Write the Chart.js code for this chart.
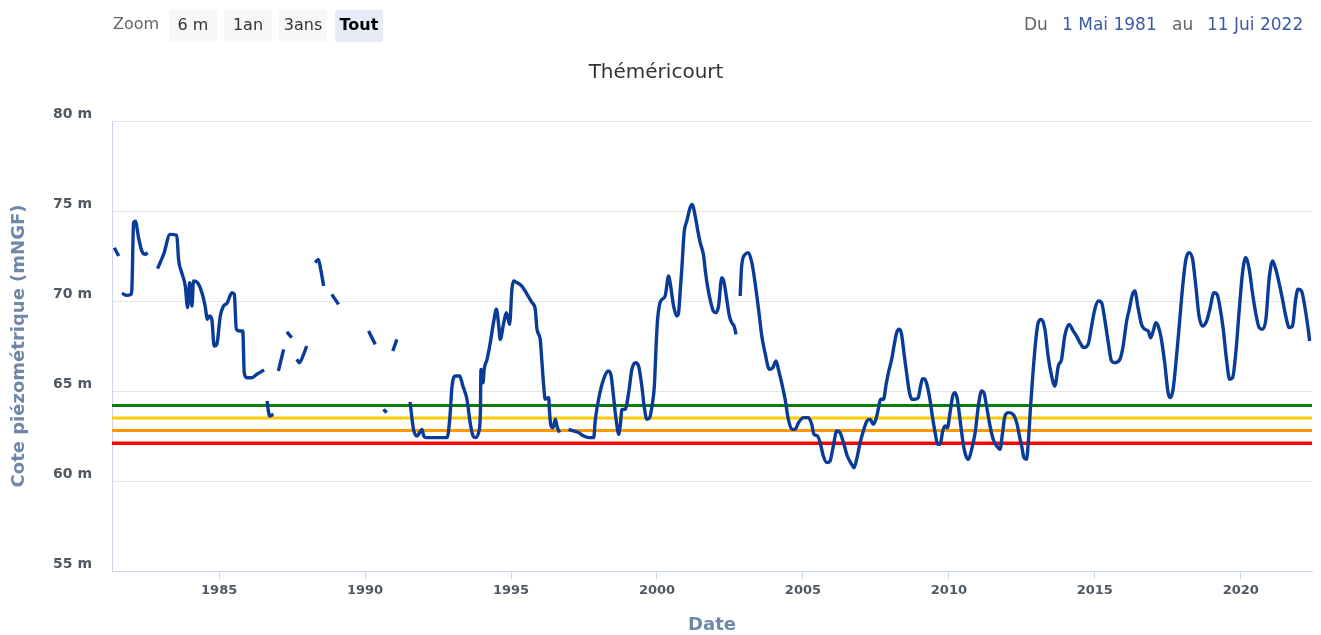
<!DOCTYPE html>
<html lang="fr">
<head>
<meta charset="utf-8">
<title>Théméricourt</title>
<script src="https://cdn.jsdelivr.net/npm/chart.js@4.4.0/dist/chart.umd.min.js"></script>
<style>
  body { margin: 0; background: #fff; }
  #wrap { position: relative; width: 1321px; height: 635px; font-family: "DejaVu Sans", sans-serif; }
  #wrap canvas { position: absolute; left: 0; top: 0; }
  .lbl { position: absolute; top: 14px; font-size: 16px; line-height: 20px; color: #666; }
  .rng { font-size: 17px; }
  .btn { position: absolute; top: 10px; width: 48px; height: 32px; line-height: 30px; text-align: center;
         font-size: 16px; color: #333; background: #f7f7f7; border-radius: 2px; }
  .btn.on { background: #e6ebf5; color: #000; font-weight: bold; }
  .date { color: #3b5ba5; }
</style>
</head>
<body>
<div id="wrap">
  <canvas id="chart" width="1321" height="635"></canvas>
  <span class="lbl" style="left:113px">Zoom</span>
  <span class="btn" style="left:169px">6 m</span>
  <span class="btn" style="left:224px">1an</span>
  <span class="btn" style="left:279px">3ans</span>
  <span class="btn on" style="left:335px">Tout</span>
  <span class="lbl rng" style="left:1024px">Du</span>
  <span class="lbl rng date" style="left:1062px">1 Mai 1981</span>
  <span class="lbl rng" style="left:1172px">au</span>
  <span class="lbl rng date" style="left:1207px">11 Jui 2022</span>
</div>
<script>
// range shown: 1 May 1981 -> 11 Jun 2022 (decimal years)
const rangeStart = 1981.33;
const rangeEnd = 2022.44;
const yearTicks = [1985, 1990, 1995, 2000, 2005, 2010, 2015, 2020];

// alert thresholds (m NGF)
const thresholds = [64.2, 63.5, 62.8, 62.1];

// measured levels, null = no data
const dates = [
  1981.41, 1981.56, 1981.62, 1981.67, 1981.84, 1981.98, 1982.01, 1982.07, 1982.13, 1982.24,
  1982.35, 1982.47, 1982.55, 1982.7, 1982.89, 1983.1, 1983.32, 1983.55, 1983.61, 1983.72,
  1983.84, 1983.92, 1983.99, 1984.07, 1984.12, 1984.26, 1984.41, 1984.52, 1984.60, 1984.67,
  1984.75, 1984.83, 1984.92, 1985.04, 1985.15, 1985.27, 1985.44, 1985.52, 1985.59, 1985.72,
  1985.81, 1985.86, 1985.95, 1986.12, 1986.29, 1986.54, 1986.6, 1986.64, 1986.73, 1986.86,
  1986.95, 1987.03, 1987.21, 1987.26, 1987.32, 1987.49, 1987.58, 1987.66, 1987.75, 1987.87,
  1988.0, 1988.15, 1988.29, 1988.40, 1988.48, 1988.58, 1988.7, 1988.86, 1989.09, 1989.6,
  1990.12, 1990.35, 1990.5, 1990.63, 1990.74, 1990.85, 1990.95, 1991.09, 1991.3, 1991.54,
  1991.66, 1991.78, 1991.87, 1991.95, 1992.01, 1992.1, 1992.46, 1992.81, 1992.90, 1992.98,
  1993.09, 1993.24, 1993.35, 1993.49, 1993.6, 1993.70, 1993.78, 1993.89, 1993.95, 1993.97,
  1994.04, 1994.08, 1994.18, 1994.29, 1994.40, 1994.50, 1994.58, 1994.63, 1994.75, 1994.84,
  1994.95, 1995.03, 1995.09, 1995.20, 1995.37, 1995.55, 1995.72, 1995.83, 1995.89, 1996.0,
  1996.06, 1996.12, 1996.17, 1996.29, 1996.32, 1996.37, 1996.44, 1996.52, 1996.57, 1996.66,
  1996.8, 1996.97, 1997.14, 1997.31, 1997.49, 1997.66, 1997.83, 1997.89, 1998.0, 1998.17,
  1998.34, 1998.43, 1998.51, 1998.57, 1998.63, 1998.68, 1998.74, 1998.8, 1998.91, 1999.03,
  1999.14, 1999.26, 1999.37, 1999.48, 1999.56, 1999.65, 1999.75, 1999.83, 1999.91, 1999.97,
  2000.02, 2000.09, 2000.17, 2000.28, 2000.40, 2000.45, 2000.57, 2000.68, 2000.74, 2000.80,
  2000.85, 2000.93, 2001.02, 2001.20, 2001.31, 2001.39, 2001.48, 2001.60, 2001.65, 2001.73,
  2001.82, 2001.93, 2002.03, 2002.11, 2002.22, 2002.30, 2002.39, 2002.48, 2002.56, 2002.64,
  2002.71, 2002.78, 2002.85, 2002.90, 2003.02, 2003.13, 2003.25, 2003.36, 2003.48, 2003.59,
  2003.70, 2003.85, 2003.97, 2004.08, 2004.16, 2004.27, 2004.39, 2004.50, 2004.62, 2004.73,
  2004.85, 2005.02, 2005.19, 2005.30, 2005.38, 2005.50, 2005.59, 2005.70, 2005.82, 2005.93,
  2006.04, 2006.16, 2006.27, 2006.39, 2006.52, 2006.67, 2006.75, 2006.84, 2006.96, 2007.07,
  2007.19, 2007.30, 2007.41, 2007.50, 2007.58, 2007.66, 2007.76, 2007.85, 2007.93, 2008.04,
  2008.13, 2008.21, 2008.30, 2008.38, 2008.46, 2008.55, 2008.65, 2008.73, 2008.84, 2008.95,
  2009.03, 2009.10, 2009.18, 2009.26, 2009.35, 2009.45, 2009.53, 2009.61, 2009.70, 2009.79,
  2009.87, 2009.95, 2010.04, 2010.13, 2010.21, 2010.29, 2010.38, 2010.47, 2010.55, 2010.67,
  2010.78, 2010.90, 2011.01, 2011.12, 2011.20, 2011.29, 2011.41, 2011.52, 2011.64, 2011.75,
  2011.84, 2011.92, 2012.04, 2012.20, 2012.33, 2012.43, 2012.50, 2012.57, 2012.66, 2012.72,
  2012.80, 2012.89, 2012.98, 2013.06, 2013.17, 2013.29, 2013.40, 2013.52, 2013.63, 2013.75,
  2013.86, 2013.97, 2014.12, 2014.26, 2014.37, 2014.49, 2014.62, 2014.77, 2014.89, 2015.00,
  2015.12, 2015.23, 2015.34, 2015.46, 2015.57, 2015.69, 2015.86, 2015.97, 2016.09, 2016.18,
  2016.29, 2016.37, 2016.48, 2016.60, 2016.71, 2016.83, 2016.91, 2017.00, 2017.09, 2017.17,
  2017.28, 2017.40, 2017.51, 2017.59, 2017.68, 2017.80, 2017.91, 2018.00, 2018.12, 2018.23,
  2018.35, 2018.46, 2018.57, 2018.69, 2018.83, 2018.94, 2019.08, 2019.19, 2019.28, 2019.40,
  2019.51, 2019.62, 2019.72, 2019.83, 2019.94, 2020.06, 2020.17, 2020.29, 2020.40, 2020.51,
  2020.63, 2020.74, 2020.86, 2020.97, 2021.09, 2021.20, 2021.31, 2021.43, 2021.54, 2021.66,
  2021.77, 2021.88, 2021.96, 2022.08, 2022.19, 2022.31, 2022.36
];
const levels = [
  72.96, 72.5, null, 70.43, 70.31, 70.37, 70.65, 74.35, 74.44, 73.52,
  72.78, 72.59, 72.69, null, 71.8, 72.6, 73.7, 73.65, 72.31, 71.57,
  70.83, 69.63, 71.02, 69.72, 71.11, 71.02, 70.46, 69.72, 68.98, 69.17,
  68.98, 67.5, 67.59, 69.17, 69.72, 69.87, 70.46, 70.37, 68.43, 68.33,
  68.33, 66.02, 65.74, 65.74, 65.93, 66.17, null, 64.44, 63.61, 63.7,
  null, 66.11, 67.31, null, 68.28, 67.96, null, 66.76, 66.57, 66.94,
  67.5, null, 72.13, 72.31, 71.76, 70.83, null, 70.37, 69.81, null,
  68.33, 67.59, null, 63.98, 63.8, null, 67.22, 67.87, null, 64.39,
  62.87, 62.5, 62.69, 62.87, 62.5, 62.41, 62.41, 62.41, 63.43, 65.28,
  65.83, 65.83, 65.28, 64.54, 63.24, 62.5, 62.41, 62.69, 63.8, 66.2,
  65.46, 66.2, 66.76, 67.69, 68.8, 69.54, 68.61, 67.87, 68.8, 69.35,
  68.7, 70.65, 71.11, 71.02, 70.83, 70.37, 69.91, 69.54, 68.43, 67.87,
  66.57, 65.28, 64.54, 64.63, 63.8, 63.06, 62.96, 63.43, 63.06, 62.69,
  null, 62.87, 62.78, 62.69, 62.5, 62.41, 62.41, 63.43, 64.54, 65.65,
  66.11, 65.83, 64.72, 63.8, 63.06, 62.59, 63.06, 63.98, 63.98, 64.91,
  66.2, 66.57, 66.39, 65.28, 64.17, 63.43, 63.52, 64.17, 65.28, 67.5,
  68.98, 69.81, 70.09, 70.28, 71.39, 71.02, 69.72, 69.17, 69.35, 70.65,
  71.76, 73.8, 74.44, 75.37, 74.72, 73.98, 73.24, 72.5, 71.76, 70.83,
  70.09, 69.44, 69.35, 69.72, 71.3, 71.02, 70.09, 69.17, 68.8, 68.61,
  68.15, null, 70.28, 71.94, 72.59, 72.69, 72.13, 71.02, 69.54, 68.06,
  67.13, 66.2, 66.3, 66.67, 66.2, 65.46, 64.54, 63.43, 62.87, 62.87,
  63.24, 63.52, 63.52, 63.15, 62.59, 62.5, 62.13, 61.39, 61.02, 61.11,
  61.94, 62.78, 62.69, 62.13, 61.39, 60.93, 60.74, 61.2, 62.13, 62.78,
  63.33, 63.43, 63.15, 63.43, 63.98, 64.54, 64.54, 65.37, 66.02, 66.76,
  67.59, 68.24, 68.43, 68.15, 67.13, 66.02, 64.91, 64.54, 64.54, 64.63,
  65.28, 65.69, 65.65, 65.28, 64.54, 63.43, 62.69, 62.04, 62.04, 62.78,
  63.06, 62.96, 63.8, 64.72, 64.91, 64.54, 63.43, 62.31, 61.57, 61.2,
  61.76, 62.69, 64.17, 65.0, 64.91, 64.17, 63.06, 62.31, 61.94, 61.76,
  62.69, 63.61, 63.8, 63.7, 63.2, 62.4, 61.9, 61.3, 61.2, 62.13,
  64.17, 66.2, 67.87, 68.8, 68.98, 68.43, 66.94, 65.83, 65.28, 66.39,
  66.76, 68.06, 68.7, 68.33, 68.06, 67.69, 67.41, 67.59, 68.61, 69.54,
  70.0, 69.91, 68.98, 67.69, 66.67, 66.57, 66.76, 67.5, 68.89, 69.54,
  70.37, 70.56, 69.63, 68.7, 68.43, 68.33, 67.96, 68.33, 68.8, 68.61,
  67.87, 66.48, 64.91, 64.63, 65.09, 66.94, 68.98, 70.65, 72.31, 72.69,
  72.31, 70.83, 69.17, 68.61, 68.89, 69.54, 70.46, 70.37, 69.72, 68.43,
  66.76, 65.65, 65.74, 67.13, 69.35, 71.57, 72.41, 71.76, 70.46, 69.35,
  68.52, 68.43, 68.98, 71.2, 72.22, 71.76, 71.02, 70.09, 69.17, 68.52,
  68.61, 70.09, 70.65, 70.56, 69.72, 68.43, 67.78
];

const tickColor = '#4f5964';
const axisTitleColor = '#6f88a8';
const thresholdColors = ['#0b7d0b', '#ffcc00', '#ff9900', '#ff0000'];

const points = dates.map((d, i) => ({ x: d, y: levels[i] }));

const datasets = [{
    label: 'Théméricourt',
    data: points,
    borderColor: '#083c98',
    borderWidth: 3.4,
    pointRadius: 0,
    spanGaps: false,
    cubicInterpolationMode: 'monotone',
    fill: false
}];
thresholds.forEach((v, i) => {
    datasets.push({
        label: 'Seuil ' + (i + 1),
        data: [{ x: rangeStart, y: v }, { x: rangeEnd, y: v }],
        borderColor: thresholdColors[i],
        borderWidth: i === 3 ? 3.6 : 3,
        pointRadius: 0,
        fill: false
    });
});

new Chart(document.getElementById('chart'), {
    type: 'line',
    data: { datasets: datasets },
    options: {
        responsive: false,
        animation: false,
        devicePixelRatio: 1,
        layout: { padding: { top: 0, right: 9, bottom: 0, left: 0 } },
        plugins: {
            legend: { display: false },
            tooltip: { enabled: false },
            title: {
                display: true,
                text: 'Théméricourt',
                color: '#333',
                font: { family: 'DejaVu Sans', size: 20, weight: 'normal' },
                padding: { top: 61, bottom: 36 }
            }
        },
        scales: {
            x: {
                type: 'linear',
                min: rangeStart,
                max: rangeEnd,
                afterBuildTicks: (s) => { s.ticks = yearTicks.map(v => ({ value: v })); },
                afterFit: (s) => { s.height = 64; },
                ticks: {
                    color: tickColor,
                    padding: 4,
                    maxRotation: 0,
                    font: { family: 'DejaVu Sans', size: 13, weight: 'bold' },
                    callback: (v) => String(v)
                },
                grid: { drawOnChartArea: false, drawTicks: true, tickLength: 8, color: '#ccd6eb' },
                border: { color: '#ccd6eb' },
                title: {
                    display: true,
                    text: 'Date',
                    color: axisTitleColor,
                    font: { family: 'DejaVu Sans', size: 18, weight: 'bold' },
                    padding: { top: 0, bottom: -1 }
                }
            },
            y: {
                min: 55,
                max: 80,
                afterFit: (s) => { s.width = 112; },
                ticks: {
                    stepSize: 5,
                    color: tickColor,
                    padding: 20,
                    labelOffset: -7,
                    font: { family: 'DejaVu Sans', size: 14, weight: 'bold' },
                    callback: (v) => v + ' m'
                },
                grid: { color: '#e6e6e6', drawTicks: false },
                border: { color: '#ccd6eb' },
                title: {
                    display: true,
                    text: 'Cote piézométrique (mNGF)',
                    color: axisTitleColor,
                    font: { family: 'DejaVu Sans', size: 18, weight: 'bold' },
                    padding: { top: 9, bottom: 0 }
                }
            }
        }
    }
});
</script>
</body>
</html>
